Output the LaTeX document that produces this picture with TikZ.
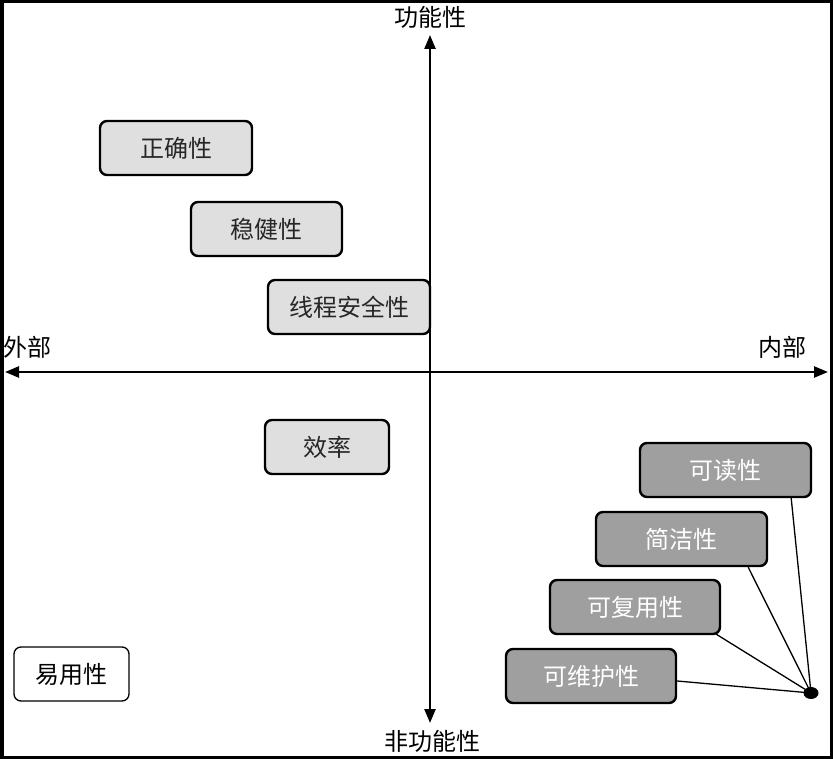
\documentclass[tikz,border=0pt]{standalone}
\usepackage{fontspec}
\setmainfont{Noto Sans CJK SC}
\usetikzlibrary{arrows.meta,calc,shapes.geometric}

\tikzset{
  quality/.style={draw=black, line width=2.4pt, rounded corners=7pt,
    minimum height=54pt, inner sep=0pt, font=\fontsize{24}{24}\selectfont},
  lightbox/.style={quality, fill=gray!25, text=black!85},
  darkbox/.style={quality, fill=gray!75, text=white},
  plainbox/.style={quality, fill=white, line width=1.3pt, text=black},
  axislabel/.style={inner sep=0pt, font=\fontsize{24}{24}\selectfont},
  axis/.style={line width=2.4pt, {Triangle[length=14pt,width=11pt]}-{Triangle[length=14pt,width=11pt]}},
  spoke/.style={line width=1.3pt}
}

\begin{document}
\begin{tikzpicture}[x=1pt,y=-1pt]
\useasboundingbox (0,0) rectangle (833,759);
\draw[line width=3.5pt] (1.75,1.75) rectangle (831.25,757.25);

% axes
\coordinate (ytop) at (430,35);
\coordinate (ybot) at (430,723);
\coordinate (xleft) at (5,372);
\coordinate (xright) at (828,372);
\draw[axis] (ybot) -- (ytop);
\draw[axis] (xleft) -- (xright);

\node[axislabel] (func) at (430,17) {功能性};
\node[axislabel] (nonfunc) at (432,741) {非功能性};
\node[axislabel] (outer) at (27,347) {外部};
\node[axislabel] (inner) at (782,347) {内部};

% external qualities
\node[lightbox, minimum width=152pt] (correct) at (176,148) {正确性};
\node[lightbox, minimum width=151pt] (robust) at (266.5,229) {稳健性};
\node[lightbox, minimum width=162pt] (thread) at (349,307) {线程安全性};
\node[lightbox, minimum width=124pt] (effic) at (327,447) {效率};
\node[plainbox, minimum width=115pt] (usable) at (71.5,674) {易用性};

% internal qualities
\node[darkbox, minimum width=171pt] (readable) at (725.5,470) {可读性};
\node[darkbox, minimum width=171pt] (concise) at (681.5,539) {简洁性};
\node[darkbox, minimum width=170pt] (reuse) at (635,607) {可复用性};
\node[darkbox, minimum width=170pt] (maintain) at (591,676) {可维护性};

% common hub
\node[ellipse, fill=black, minimum width=15pt, minimum height=12pt, inner sep=0pt] (hub) at (811,693) {};
\draw[spoke] (hub.center) -- ($(readable.south east)+(-21,0)$);
\draw[spoke] (hub.center) -- ($(concise.south east)+(-20,0)$);
\draw[spoke] (hub.center) -- ($(reuse.south east)+(-5,-1)$);
\draw[spoke] (hub.center) -- ($(maintain.east)+(0,5)$);
\end{tikzpicture}
\end{document}
